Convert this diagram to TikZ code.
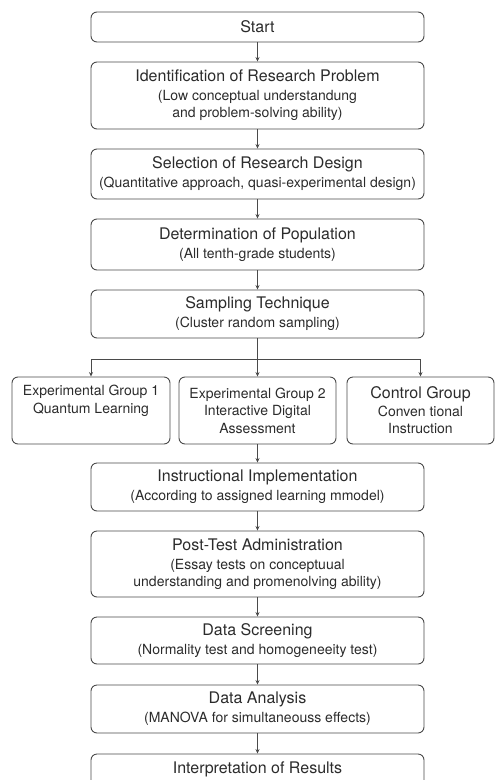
\documentclass[tikz,border=0pt]{standalone}
\usepackage{fontspec}
\setmainfont{TeX Gyre Heros}
\usetikzlibrary{arrows.meta}

\definecolor{boxline}{HTML}{4A4A4A}
\definecolor{boxtext}{HTML}{2B2B2B}
\newcommand{\ttl}{\fontsize{16}{19}\selectfont}
\newcommand{\subtxt}{\fontsize{14}{17}\selectfont}
\newcommand{\grptxt}{\fontsize{14}{17.5}\selectfont}

\tikzset{
  stepbox/.style={draw=boxline, line width=0.9pt, rounded corners=6pt,
    minimum width=333pt, inner sep=0pt, align=center, text=boxtext, font=\subtxt},
  groupbox/.style={stepbox, minimum height=67pt, font=\grptxt},
  flow/.style={draw=boxline, line width=0.9pt, -{Stealth[length=4.5pt,width=4pt]}},
}

\begin{document}
\begin{tikzpicture}[x=1pt,y=-1pt]
\useasboundingbox (0,0) rectangle (499,780);
\clip (0,0) rectangle (499,780);

% main column
\node[stepbox, minimum height=30pt] (start) at (257.5,27) {\ttl Start};

\node[stepbox, minimum height=67pt] (ident) at (257.5,95.5)
  {{\ttl Identification of Research Problem}\\[2pt]
   (Low conceptual understandung\\ and problem-solving ability)};

\node[stepbox, minimum height=50pt] (design) at (257.5,174)
  {{\ttl Selection of Research Design}\\[2pt]
   (Quantitative approach, quasi-experimental design)};

\node[stepbox, minimum height=51pt] (popul) at (257.5,244.5)
  {{\ttl Determination of Population}\\[2pt]
   (All tenth-grade students)};

\node[stepbox, minimum height=48pt] (sampling) at (257.5,314)
  {{\ttl Sampling Technique}\\[2pt]
   (Cluster random sampling)};

% the three groups
\node[groupbox, minimum width=158pt] (grpA) at (91,410.5)
  {Experimental Group 1\\ Quantum Learning\\ \strut};
\node[groupbox, minimum width=157pt] (grpB) at (257.5,410.5)
  {Experimental Group 2\\ Interactive Digital\\ Assessment};
\node[groupbox, minimum width=147pt] (grpC) at (420.5,410.5)
  {{\ttl Control Group}\\ Conven tional\\ Instruction};

\node[stepbox, minimum height=48pt] (implement) at (257.5,487)
  {{\ttl Instructional Implementation}\\[2pt]
   (According to assigned learning mmodel)};

\node[stepbox, minimum height=66pt] (posttest) at (257.5,564)
  {{\ttl Post-Test Administration}\\[2pt]
   (Essay tests on conceptuual\\ understanding and promenolving ability)};

\node[stepbox, minimum height=47pt] (screen) at (257.5,640.5)
  {{\ttl Data Screening}\\[2pt]
   (Normality test and homogeneeity test)};

\node[stepbox, minimum height=48pt] (analysis) at (257.5,709)
  {{\ttl Data Analysis}\\[2pt]
   (MANOVA for simultaneouss effects)};

\node[stepbox, minimum height=48pt, text depth=20pt] (interp) at (257.5,778)
  {\ttl Interpretation of Results};

% arrows
\draw[flow] (start) -- (ident);
\draw[flow] (ident) -- (design);
\draw[flow] (design) -- (popul);
\draw[flow] (popul) -- (sampling);

\coordinate (split) at (257.5,359);
\draw[boxline, line width=0.9pt] (sampling) -- (split);
\draw[flow] (split) -| (grpA);
\draw[flow] (split) -- (grpB);
\draw[flow] (split) -| (grpC);

\draw[flow] (grpB) -- (implement);
\draw[flow] (implement) -- (posttest);
\draw[flow] (posttest) -- (screen);
\draw[flow] (screen) -- (analysis);
\draw[flow] (analysis) -- (interp);

\end{tikzpicture}
\end{document}
